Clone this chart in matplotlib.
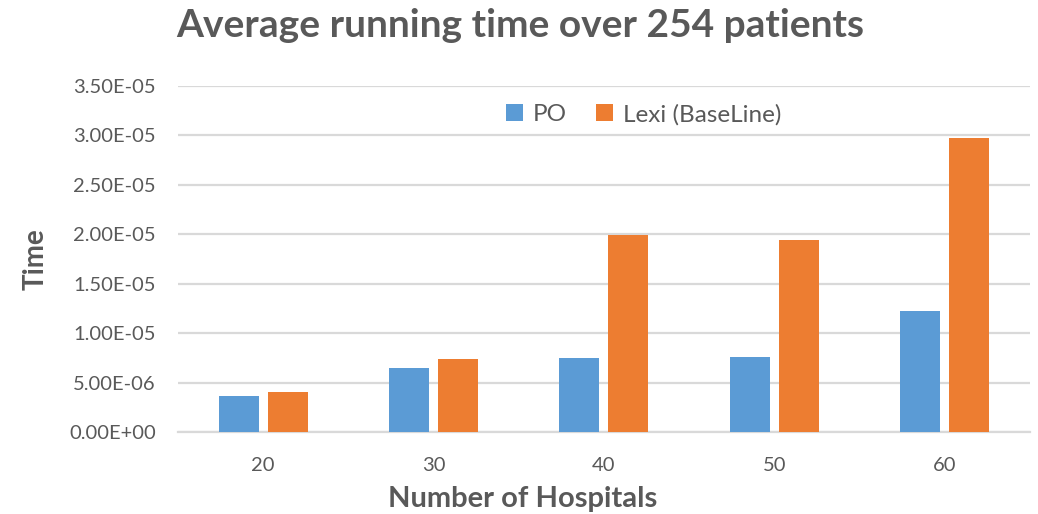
import matplotlib
matplotlib.use("Agg")
import matplotlib.pyplot as plt
import numpy as np

hospitals = ["20", "30", "40", "50", "60"]
po = [3.6e-6, 6.5e-6, 7.45e-6, 7.55e-6, 1.225e-5]
lexi = [4.0e-6, 7.4e-6, 1.99e-5, 1.94e-5, 2.97e-5]
yticks = [0, 5e-6, 1e-5, 1.5e-5, 2e-5, 2.5e-5, 3e-5, 3.5e-5]
ytick_labels = ["0.00E+00", "5.00E-06", "1.00E-05", "1.50E-05",
                "2.00E-05", "2.50E-05", "3.00E-05", "3.50E-05"]

plt.rcParams['font.family'] = ['Lato', 'DejaVu Sans']
text_col = "#595959"
grid_col = "#d9d9d9"

fig = plt.figure(figsize=(10.38, 5.14), dpi=100)
ax = fig.add_axes([0.1715, 0.1595, 0.8205, 0.6732])

x = np.arange(len(hospitals))
w = 0.235
off = 0.144
ax.bar(x - off, po, w, color="#5b9bd5", label="PO", zorder=3)
ax.bar(x + off, lexi, w, color="#ed7d31", label="Lexi (BaseLine)", zorder=3)

ax.set_xlim(-0.5, len(hospitals) - 0.5)
ax.set_ylim(0, 3.5e-5)
ax.set_yticks(yticks)
ax.set_yticklabels(ytick_labels)
ax.set_xticks(x)
ax.set_xticklabels(hospitals)
ax.tick_params(axis='both', length=0, labelsize=14.5, colors=text_col)
ax.tick_params(axis='y', pad=16)
ax.tick_params(axis='x', pad=18)
ax.grid(axis='y', color=grid_col, linewidth=1.6, zorder=0)
for s in ["top", "right", "left"]:
    ax.spines[s].set_visible(False)
ax.spines["bottom"].set_color(grid_col)
ax.spines["bottom"].set_linewidth(1.6)

ax.set_xlabel("Number of Hospitals", fontsize=21, fontweight='bold',
              color=text_col, labelpad=6)
ax.xaxis.set_label_coords(0.405, -0.155)
ax.set_ylabel("Time", fontsize=20, fontweight='bold', color=text_col,
              labelpad=15)
fig.suptitle("Average running time over 254 patients", x=0.501, y=0.985,
             fontsize=28, fontweight='bold', color=text_col)

leg = ax.legend(loc='upper center', bbox_to_anchor=(0.547, 1.012), ncol=2,
                frameon=False, fontsize=17.5, handlelength=0.7,
                handleheight=0.7, handletextpad=0.4, columnspacing=1.2)
for t in leg.get_texts():
    t.set_color(text_col)

fig.savefig("out.png", dpi=100)
